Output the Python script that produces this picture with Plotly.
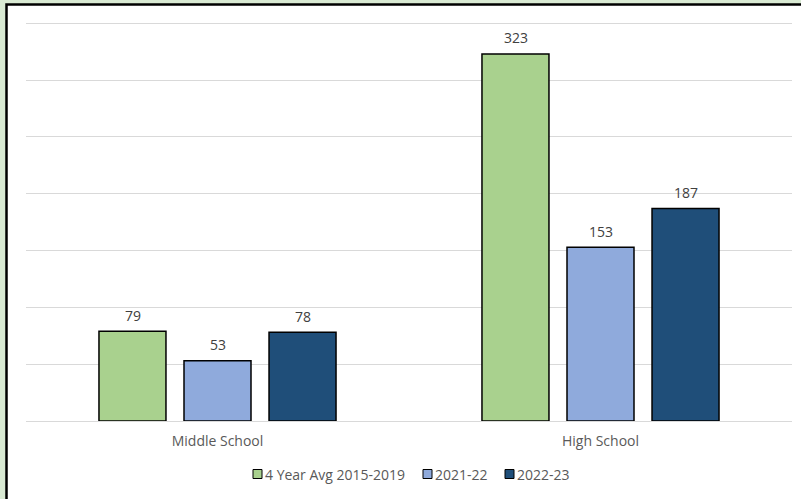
import plotly.graph_objects as go

categories = ["Middle School", "High School"]
series_names = ["4 Year Avg 2015-2019", "2021-22", "2022-23"]
avg_2015_2019 = [79, 323]
year_2021_22 = [53, 153]
year_2022_23 = [78, 187]
colors = ["#A9D18E", "#8FAADC", "#1F4E79"]

FONT = "Open Sans, Liberation Sans, sans-serif"
W, H = 801, 499
L, R, T, B = 26, 9, 21, 78
pw, ph = W - L - R, H - T - B
Y_MAX = 352


def px_x(p):
    return (p - L) / pw


def px_y(p):
    return (H - B - p) / ph


fig = go.Figure()
slot_shift = [-85, 0, 85]
all_series = [avg_2015_2019, year_2021_22, year_2022_23]
for name, vals, col, dx in zip(series_names, all_series, colors, slot_shift):
    fig.add_trace(go.Bar(
        x=categories, y=vals, name=name, showlegend=False,
        marker=dict(color=col, line=dict(color="#000000", width=1.5)),
    ))
    # value labels above each bar
    for cat, v in zip(categories, vals):
        fig.add_annotation(x=cat, y=v, xref="x", yref="y", text=str(v),
                           showarrow=False, xshift=dx, yshift=16,
                           font=dict(family=FONT, size=14, color="#404040"))

# white card with black frame on a pale green page
fig.add_shape(type="rect", xref="paper", yref="paper", layer="below",
              x0=px_x(6.5), x1=px_x(812), y0=px_y(520), y1=px_y(4.5),
              fillcolor="#FFFFFF", line=dict(color="#000000", width=2.5))

# legend: small outlined squares followed by series names
legend_x = [253, 423, 505]
legend_y = 474
for name, col, lx in zip(series_names, colors, legend_x):
    fig.add_shape(type="rect", xref="paper", yref="paper",
                  x0=px_x(lx), x1=px_x(lx + 9), y0=px_y(legend_y + 4.5), y1=px_y(legend_y - 4.5),
                  fillcolor=col, line=dict(color="#000000", width=1))
    fig.add_annotation(x=px_x(lx + 10), y=px_y(legend_y), xref="paper", yref="paper",
                       text=name, showarrow=False, xanchor="left", yanchor="middle",
                       font=dict(family=FONT, size=14, color="#595959"))

fig.update_layout(
    width=W, height=H,
    margin=dict(l=L, r=R, t=T, b=B),
    paper_bgcolor="#D9EAD3",
    plot_bgcolor="rgba(0,0,0,0)",
    barmode="group",
    bargap=0.334,
    bargroupgap=0.212,
    showlegend=False,
    font=dict(family=FONT, size=14, color="#595959"),
    xaxis=dict(showline=True, linecolor="#D9D9D9", linewidth=1, ticks="",
               tickfont=dict(family=FONT, size=14, color="#595959"), showgrid=False,
               ticklabelstandoff=7),
    yaxis=dict(range=[0, Y_MAX], dtick=50, showgrid=True, gridcolor="#D9D9D9",
               gridwidth=1, showticklabels=False, zeroline=False, ticks=""),
)

fig.write_html("out.html")
